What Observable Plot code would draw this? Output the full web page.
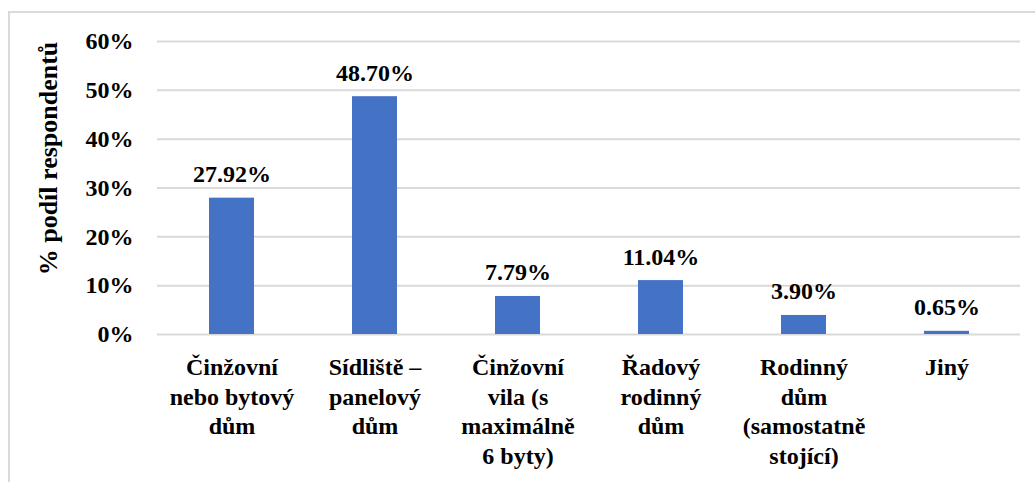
<!DOCTYPE html>
<html>
<head>
<meta charset="utf-8">
<script src="https://cdn.jsdelivr.net/npm/d3@7"></script>
<script src="https://cdn.jsdelivr.net/npm/@observablehq/plot@0.6"></script>
<style>
  html, body { margin: 0; padding: 0; background: #fff; }
  body { width: 1035px; height: 482px; overflow: hidden; position: relative; }
  #frame { position: absolute; left: 8px; top: 11px; width: 1040px; height: 490px; border: 2px solid #d9d9d9; box-sizing: border-box; }
  #chart { position: absolute; left: 0; top: 0; }
</style>
</head>
<body>
<div id="frame"></div>
<div id="chart"></div>
<script>
const categories = [
  "Činžovní\nnebo bytový\ndům",
  "Sídliště –\npanelový\ndům",
  "Činžovní\nvila (s\nmaximálně\n6 byty)",
  "Řadový\nrodinný\ndům",
  "Rodinný\ndům\n(samostatně\nstojící)",
  "Jiný"
];
const values = [27.92, 48.70, 7.79, 11.04, 3.90, 0.65];
const yTicks = [0, 10, 20, 30, 40, 50, 60];
const yLabel = "% podíl respondentů";

const data = categories.map((c, i) => ({category: c, value: values[i]}));
const ff = "Liberation Serif";

const chart = Plot.plot({
  width: 1035,
  height: 482,
  marginLeft: 157,
  marginRight: 15,
  marginTop: 41,
  marginBottom: 148,
  style: {fontFamily: ff, fontSize: "24px"},
  x: {domain: categories, paddingInner: 0.6875, paddingOuter: 0.34375, label: null},
  y: {domain: [0, 60], label: null},
  marks: [
    Plot.gridY(yTicks, {stroke: "#d9d9d9", strokeOpacity: 1, strokeWidth: 2}),
    Plot.barY(data, {x: "category", y: "value", fill: "#4472C4"}),
    Plot.text(data, {x: "category", y: "value", text: d => d.value.toFixed(2) + "%", lineAnchor: "bottom", dy: -16, fontFamily: ff, fontSize: 24, fontWeight: "bold", fill: "#000"}),
    Plot.axisY({ticks: yTicks, tickFormat: d => d + "%", tickSize: 0, tickPadding: 24, label: null, fontFamily: ff, fontSize: 24, fontWeight: "bold", fill: "#000"}),
    Plot.axisX({tickSize: 0, tickPadding: 20, label: null, lineHeight: 1.23, fontFamily: ff, fontSize: 24, fontWeight: "bold", fill: "#000"}),
    Plot.text([yLabel], {frameAnchor: "top-left", dx: -109, dy: 117, rotate: -90, textAnchor: "middle", lineAnchor: "middle", fontFamily: ff, fontSize: 26, fontWeight: "bold", fill: "#000"})
  ]
});
chart.querySelectorAll("text, tspan, g").forEach(el => {
  el.setAttribute("font-family", ff);
  el.style.fontFamily = ff;
});
document.getElementById("chart").appendChild(chart);
</script>
</body>
</html>
